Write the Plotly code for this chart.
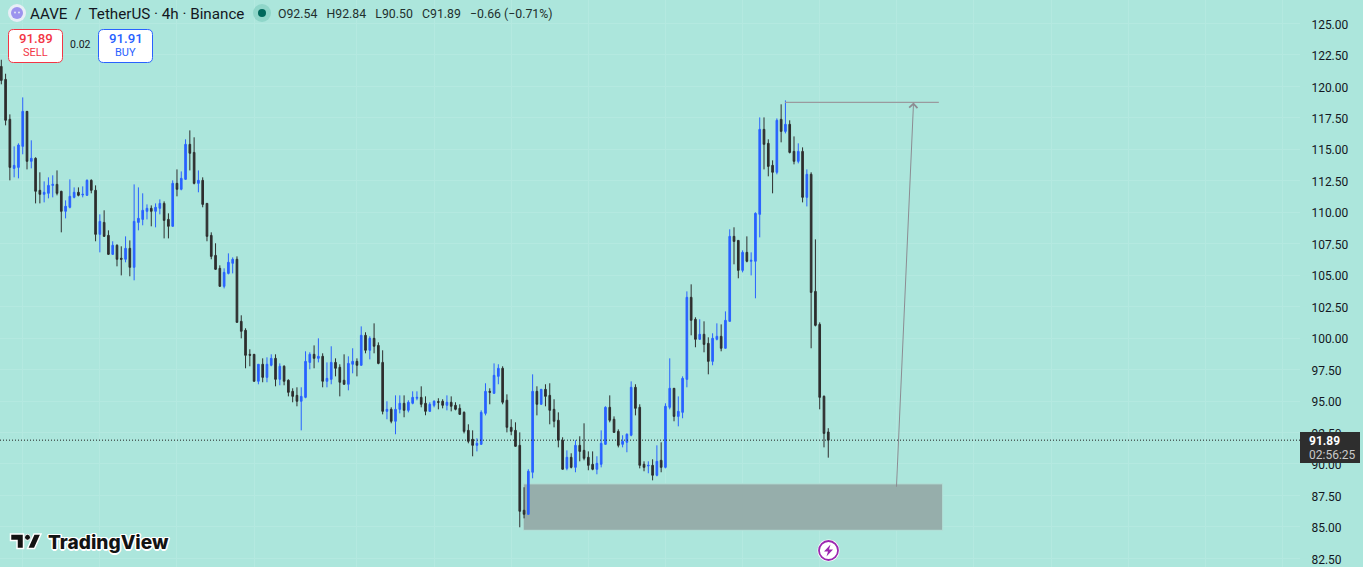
import plotly.graph_objects as go

opens = [121.58,120.55,117.38,113.48,113.56,115.23,118.01,114.04,114.28,111.74,
111.42,111.50,112.13,112.21,111.66,110.07,110.39,111.18,111.58,111.37,
111.34,112.53,111.74,108.24,109.19,108.16,106.65,107.37,106.34,106.26,
107.13,105.62,109.19,109.43,110.07,110.31,110.07,110.31,110.70,109.43,
108.88,112.29,111.82,112.61,115.39,114.75,112.29,112.53,110.70,108.16,
106.57,105.54,104.11,105.14,105.94,106.26,101.33,100.62,98.71,98.71,
96.57,97.92,96.88,97.84,98.39,96.72,97.76,96.65,95.77,95.45,
94.98,95.29,98.07,98.71,98.39,98.55,96.57,96.72,98.07,97.68,
96.65,96.33,97.92,98.15,97.84,100.22,99.03,99.98,99.42,98.07,
94.18,94.34,93.39,94.34,94.82,94.26,94.82,95.22,95.29,94.82,
94.18,94.66,94.95,94.98,94.66,94.90,94.66,94.42,94.10,92.67,
91.96,91.48,91.56,94.02,95.77,95.61,96.96,97.60,95.06,92.91,
92.67,91.48,86.32,86.00,89.34,95.77,94.74,95.93,95.45,94.34,
93.47,91.88,89.65,90.53,89.73,91.48,91.08,90.53,89.97,89.58,
89.97,91.56,94.50,93.55,92.59,91.56,91.72,92.28,96.09,94.50,
89.97,89.84,89.89,89.10,90.29,89.73,94.50,96.01,93.78,94.10,
96.72,103.24,101.49,99.90,100.30,99.58,98.15,99.90,100.14,99.19,
101.33,108.08,107.76,105.38,106.81,106.10,106.10,109.83,116.58,115.47,
113.72,113.17,117.38,116.42,116.98,114.83,114.04,114.83,111.18,113.01,
103.71,101.09,95.37,92.54]
highs = [122.11,121.00,117.77,115.23,115.47,119.12,118.01,115.71,114.36,113.17,
112.45,112.77,112.93,113.32,111.70,110.94,112.61,111.97,111.97,112.05,
112.61,112.61,112.13,109.83,110.15,108.56,107.69,107.45,107.29,108.08,
107.76,112.21,111.97,111.50,110.62,110.54,110.70,111.02,110.86,109.91,
112.53,113.40,113.24,115.79,116.50,115.95,113.32,112.77,110.72,108.40,
107.53,105.78,105.54,106.73,106.41,106.49,101.81,100.78,99.11,98.73,
97.94,98.39,98.47,98.71,98.71,97.99,97.84,96.72,96.01,96.09,
96.09,98.95,98.87,99.42,99.98,98.79,98.07,99.35,98.39,97.92,
98.71,98.55,99.19,98.39,100.93,100.46,100.14,101.17,99.66,99.03,
94.98,94.50,95.45,95.45,95.45,95.06,95.77,95.77,96.17,95.37,
94.90,95.06,95.22,95.14,95.45,95.37,94.90,94.74,94.18,93.15,
92.67,92.04,94.26,96.41,96.01,97.99,97.92,97.76,95.53,93.55,
93.31,92.51,88.15,89.58,97.12,96.17,95.95,96.33,96.41,95.14,
94.10,92.12,91.08,90.85,91.88,92.20,93.23,91.00,91.00,90.61,
92.67,94.58,95.45,93.78,92.75,92.28,92.43,96.56,96.33,94.74,
90.21,90.21,90.37,91.48,91.72,94.82,98.39,96.03,95.37,96.96,
103.71,104.27,101.65,101.49,101.33,100.06,100.38,101.17,101.09,102.12,
108.64,108.80,107.78,106.97,108.08,106.81,109.99,117.53,117.53,115.79,
114.12,117.45,118.57,118.88,117.30,116.02,115.47,115.15,113.40,113.17,
107.84,101.25,95.45,92.84]
lows = [120.16,116.90,112.53,112.77,112.69,114.60,113.40,113.48,110.70,110.70,
110.78,111.10,111.18,111.34,108.40,109.51,110.31,111.10,111.26,111.18,
111.30,111.50,107.69,106.81,108.05,106.60,106.60,105.70,104.98,106.02,
104.91,104.59,108.56,108.96,109.43,108.88,108.80,109.83,107.92,107.92,
108.85,111.26,111.74,112.58,113.32,112.21,111.58,110.39,107.69,106.26,
105.43,104.08,103.95,105.06,105.14,101.22,99.98,97.60,97.76,96.54,
96.33,96.49,96.49,97.76,96.17,96.25,96.25,95.37,94.90,94.58,
92.67,95.22,97.52,97.60,98.07,96.09,96.09,96.33,96.96,95.37,
96.30,95.85,97.20,96.96,97.81,98.79,98.31,98.79,97.92,93.94,
93.55,93.23,92.36,94.02,93.71,94.10,94.74,95.06,94.50,93.87,
94.15,94.50,94.34,94.42,94.26,94.18,94.26,93.91,92.43,91.64,
90.61,91.00,91.53,93.86,94.74,95.58,96.33,94.74,92.51,92.28,
91.38,84.97,85.68,85.97,88.86,93.86,94.71,94.58,93.15,92.91,
91.32,89.55,89.50,89.65,89.34,90.21,90.29,89.50,89.50,89.18,
89.73,91.53,93.31,92.48,91.32,91.32,90.93,92.20,93.86,89.65,
89.42,89.26,88.70,89.02,89.34,89.65,94.34,93.39,92.99,93.63,
96.09,100.22,99.27,99.88,98.87,97.12,97.84,99.82,98.95,99.17,
101.31,105.86,104.75,105.22,106.02,104.98,103.16,108.00,113.40,112.85,
111.50,113.01,115.55,116.26,114.67,113.80,113.88,110.78,110.46,99.19,
100.93,94.34,91.32,90.50]
closes = [120.47,117.30,113.56,113.72,115.34,118.01,114.04,114.28,111.66,111.42,
111.58,112.13,112.21,111.50,110.07,110.47,111.26,111.58,111.34,111.42,
112.53,111.74,108.24,109.27,108.08,106.65,107.37,106.26,106.26,107.13,
105.62,109.27,109.51,110.15,110.31,110.07,110.39,110.70,109.35,108.88,
112.29,111.82,112.69,115.39,114.68,112.29,112.53,110.62,108.08,106.49,
105.46,104.11,105.22,106.02,106.26,101.25,100.54,98.63,98.63,96.57,
97.92,96.88,97.92,98.39,96.72,97.76,96.57,95.69,95.37,94.98,
95.37,98.15,98.71,98.39,98.55,96.57,96.80,98.07,97.60,96.49,
96.33,97.99,98.15,97.84,100.22,99.03,99.98,99.35,97.99,94.18,
94.34,93.39,94.34,94.82,94.26,94.90,95.29,95.29,94.74,94.18,
94.74,94.98,94.90,94.66,94.90,94.58,94.34,93.94,92.59,91.80,
91.48,91.64,94.10,95.77,95.69,97.04,97.60,94.90,92.91,92.59,
91.40,86.24,86.00,89.42,95.77,94.74,95.93,95.37,94.26,93.39,
91.88,89.58,90.53,89.73,91.48,91.00,90.45,89.89,89.58,90.05,
91.64,94.50,93.47,92.51,91.48,91.80,92.36,96.09,94.42,89.89,
89.73,89.89,89.10,90.21,89.73,94.58,96.01,93.78,94.18,96.80,
103.24,101.41,99.90,100.30,99.50,98.15,99.98,100.14,99.19,101.41,
108.08,107.68,105.38,106.81,106.10,106.18,109.91,116.58,115.39,113.64,
113.17,117.30,116.42,116.98,114.75,114.04,114.83,111.18,113.01,103.63,
101.01,95.29,92.43,91.89]
bars = list(range(1, len(opens) + 1))

price_ticks = [125, 122.5, 120, 117.5, 115, 112.5, 110, 107.5, 105, 102.5, 100, 97.5, 95, 92.5, 90, 87.5, 85, 82.5]
price_labels = [f"{p:.2f}" for p in price_ticks]
time_grid = [6, 24, 42, 60, 84, 102, 120, 138, 156, 174, 192, 210, 228, 246, 264, 282, 300]

last_price = 91.89
zone_bars = [122.8, 220.7]
zone_prices = [84.73, 88.42]
target_bars = [183.9, 219.8]
target_price = 118.72
arrow_bars = [209.9, 213.9]
arrow_prices = [88.07, 118.72]

BG = "#ACE6DC"
GRID = "#B4E9E0"
DOWN = "#2E2E2E"
UP = "#2962FF"
W_PLOT = 1300.0
H_PLOT = 567.0
px = lambda v: v / W_PLOT
py = lambda v: 1 - v / H_PLOT


def ppath(points, close=True):
    s = " ".join(("M" if i == 0 else "L") + f"{px(x):.5f},{py(y):.5f}" for i, (x, y) in enumerate(points))
    return s + (" Z" if close else "")


def rbox(x0, y0, x1, y1, r):
    X = px
    Y = py
    return (f"M{X(x0+r)},{Y(y0)} L{X(x1-r)},{Y(y0)} Q{X(x1)},{Y(y0)} {X(x1)},{Y(y0+r)} "
            f"L{X(x1)},{Y(y1-r)} Q{X(x1)},{Y(y1)} {X(x1-r)},{Y(y1)} "
            f"L{X(x0+r)},{Y(y1)} Q{X(x0)},{Y(y1)} {X(x0)},{Y(y1-r)} "
            f"L{X(x0)},{Y(y0+r)} Q{X(x0)},{Y(y0)} {X(x0+r)},{Y(y0)} Z")


def circle(cx, cy, r, fill, line=None, lw=0):
    return dict(type="circle", xref="paper", yref="paper", x0=px(cx - r), x1=px(cx + r),
                y0=py(cy + r), y1=py(cy - r), fillcolor=fill,
                line=dict(color=line or fill, width=lw), layer="above")


fig = go.Figure(go.Candlestick(
    x=bars, open=opens, high=highs, low=lows, close=closes,
    increasing=dict(line=dict(color=UP, width=1), fillcolor=UP),
    decreasing=dict(line=dict(color=DOWN, width=1), fillcolor=DOWN),
    whiskerwidth=0, hoverinfo="skip", showlegend=False,
))

shapes = [
    # demand zone
    dict(type="rect", xref="x", yref="y", x0=zone_bars[0], x1=zone_bars[1], y0=zone_prices[0], y1=zone_prices[1],
         fillcolor="#96AEAB", line=dict(color="#B3E2D9", width=1), layer="between"),
    # target line
    dict(type="line", xref="x", yref="y", x0=target_bars[0], x1=target_bars[1], y0=target_price, y1=target_price,
         line=dict(color="#9A9A9E", width=1.2), layer="above"),
    # last price dotted line
    dict(type="line", xref="paper", yref="y", x0=0, x1=1, y0=last_price, y1=last_price,
         line=dict(color="#1F1F1F", width=1, dash="1px 2px"), layer="above"),
    # price label box
    dict(type="rect", xref="paper", yref="paper", x0=px(1300), x1=px(1360), y0=py(463), y1=py(432),
         fillcolor="#2E2E2E", line=dict(width=0), layer="above"),
    # sell / buy boxes
    dict(type="path", xref="paper", yref="paper", path=rbox(8.5, 29.5, 62.5, 62.5, 5), fillcolor="#FFFFFF",
         line=dict(color="#F23645", width=1), layer="above"),
    dict(type="path", xref="paper", yref="paper", path=rbox(98.5, 29.5, 152.5, 62.5, 5), fillcolor="#FFFFFF",
         line=dict(color="#2962FF", width=1), layer="above"),
    # symbol icon
    circle(17, 13, 9, "#E8EEF6"),
    circle(17, 13, 6, "#9C93EE"),
    circle(15, 12.5, 0.9, "#E8EEF6"),
    circle(19, 12.5, 0.9, "#E8EEF6"),
    # market status icon
    circle(262, 13, 9, "#8FD6C9"),
    circle(262, 13, 4, "#00695C"),
    # lightning badge
    circle(828.5, 550.5, 11, "#FFFFFF"),
    circle(828.5, 550.5, 9.5, "#FFFFFF", "#9C27B0", 1.8),
    dict(type="path", xref="paper", yref="paper", layer="above", fillcolor="#9C27B0", line=dict(width=0),
         path=ppath([(830.5, 544.5), (824, 551.5), (828, 551.5), (826.5, 556.5), (833, 549.5), (829, 549.5)])),
    # TradingView glyph
    dict(type="path", xref="paper", yref="paper", layer="above", fillcolor="#131313",
         line=dict(color="#FFFFFF", width=1.5),
         path=ppath([(10.5, 534), (23.5, 534), (23.5, 548.5), (17, 548.5), (17, 540.5), (10.5, 540.5)])),
    circle(27.5, 537.3, 3, "#131313", "#FFFFFF", 1),
    dict(type="path", xref="paper", yref="paper", layer="above", fillcolor="#131313",
         line=dict(color="#FFFFFF", width=1.5),
         path=ppath([(34, 534), (41, 534), (34.5, 548.5), (27.5, 548.5)])),
]

anns = [
    dict(x=px(29), y=py(13.5), text="AAVE  /  TetherUS · 4h · Binance", font=dict(family="Roboto", size=15.2, color="#131722")),
    dict(x=px(277), y=py(13.5), text="O92.54   H92.84   L90.50   C91.89   −0.66 (−0.71%)", font=dict(family="Roboto", size=12.3, color="#22302E")),
    dict(x=px(35.5), y=py(38.5), xanchor="center", text="91.89", font=dict(family="Roboto", size=13.2, color="#F23645", weight=500)),
    dict(x=px(35.5), y=py(53), xanchor="center", text="SELL", font=dict(family="Roboto", size=11, color="#F23645")),
    dict(x=px(125.5), y=py(38.5), xanchor="center", text="91.91", font=dict(family="Roboto", size=13.2, color="#2962FF", weight=500)),
    dict(x=px(125.5), y=py(53), xanchor="center", text="BUY", font=dict(family="Roboto", size=11, color="#2962FF")),
    dict(x=px(80), y=py(45), xanchor="center", text="0.02", font=dict(family="Roboto", size=10.5, color="#131722")),
    dict(x=px(1308), y=py(440.5), text="<b>91.89</b>", font=dict(family="Roboto", size=12, color="#FFFFFF")),
    dict(x=px(1308), y=py(454.5), text="02:56:25", font=dict(family="Roboto", size=12, color="#C9C9C9")),
    dict(x=px(46.5), y=py(542), text="TradingView",
         font=dict(family="Inter", size=19.1, color="#131313", weight=800,
                   shadow="-1.5px 0 0 #fff, 1.5px 0 0 #fff, 0 -1.5px 0 #fff, 0 1.5px 0 #fff, 1px 1px 0 #fff, -1px -1px 0 #fff, 1px -1px 0 #fff, -1px 1px 0 #fff")),
]
annotations = [dict(xref="paper", yref="paper", xanchor=a.pop("xanchor", "left"), yanchor="middle",
                    showarrow=False, borderpad=0, **a) for a in anns]
annotations.append(dict(x=arrow_bars[1], y=arrow_prices[1], ax=arrow_bars[0], ay=arrow_prices[0],
                        xref="x", yref="y", axref="x", ayref="y", text="", showarrow=True,
                        arrowhead=4, arrowsize=1.6, arrowwidth=1, arrowcolor="#8C8C92"))

fig.update_layout(
    width=1363, height=567, autosize=False,
    margin=dict(l=0, r=63, t=0, b=0, pad=0),
    paper_bgcolor=BG, plot_bgcolor=BG,
    boxgap=0.45, hovermode=False, dragmode=False, showlegend=False,
    shapes=shapes, annotations=annotations,
    xaxis=dict(range=[0.697, 304.09], tickmode="array", tickvals=time_grid, showticklabels=False,
               showgrid=True, gridcolor=GRID, gridwidth=1, zeroline=False, showline=False, ticks="",
               rangeslider=dict(visible=False), fixedrange=True),
    yaxis=dict(range=[81.815, 126.857], side="right", tickmode="array", tickvals=price_ticks, ticktext=price_labels,
               showgrid=True, gridcolor=GRID, gridwidth=1, zeroline=False, showline=False,
               ticks="outside", ticklen=8, tickcolor="rgba(0,0,0,0)", ticklabelshift=1,
               tickfont=dict(family="Roboto", size=12, color="#131722"), fixedrange=True),
)

fig.write_html("out.html", config={"displayModeBar": False},
               post_script="document.body.style.margin='0';document.body.style.overflow='hidden';")
